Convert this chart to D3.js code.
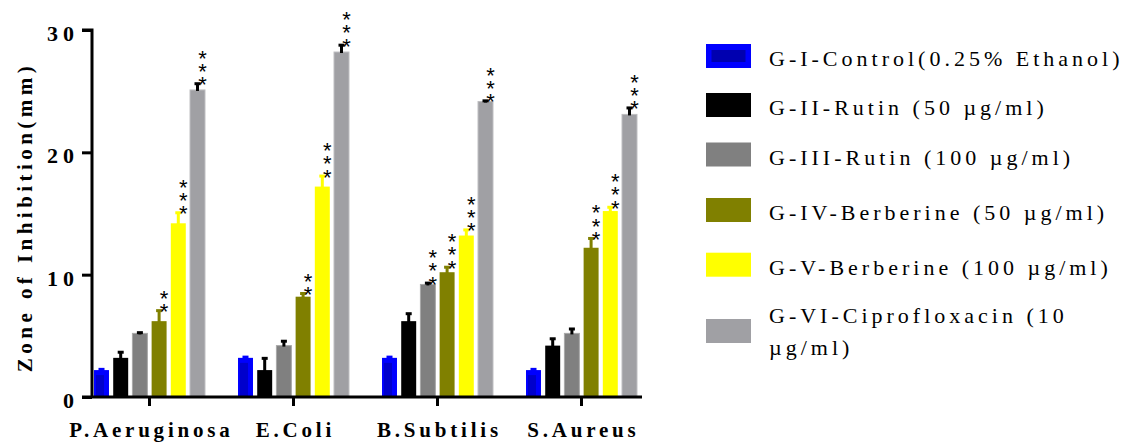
<!DOCTYPE html>
<html>
<head>
<meta charset="utf-8">
<script src="https://cdn.jsdelivr.net/npm/d3@7"></script>
<style>
  body { margin: 0; background: #fff; }
  svg { display: block; }
</style>
</head>
<body>
<div id="chart"></div>
<script>
// bacteria groups on the x axis
const categories = ['P.Aeruginosa', 'E.Coli', 'B.Subtilis', 'S.Aureus'];

// treatment groups (series)
const seriesNames = [
    'G-I-Control(0.25% Ethanol)',
    'G-II-Rutin (50 µg/ml)',
    'G-III-Rutin (100 µg/ml)',
    'G-IV-Berberine (50 µg/ml)',
    'G-V-Berberine (100 µg/ml)',
    'G-VI-Ciprofloxacin (10 µg/ml)'
];
// legend wraps the last label onto two lines
const legendLines = [
    ['G-I-Control(0.25% Ethanol)'],
    ['G-II-Rutin (50 µg/ml)'],
    ['G-III-Rutin (100 µg/ml)'],
    ['G-IV-Berberine (50 µg/ml)'],
    ['G-V-Berberine (100 µg/ml)'],
    ['G-VI-Ciprofloxacin (10', 'µg/ml)']
];
const seriesColors = ['#0000ff', '#000000', '#808080', '#808000', '#ffff00', '#a0a0a4'];
const errorColors = ['#0000ff', '#000000', '#000000', '#808000', '#ffff00', '#000000'];

// mean zone of inhibition (mm), one array per series, in category order
const gI   = [2.2, 3.2, 3.2, 2.2];
const gII  = [3.2, 2.2, 6.2, 4.2];
const gIII = [5.2, 4.2, 9.2, 5.2];
const gIV  = [6.2, 8.2, 10.2, 12.2];
const gV   = [14.2, 17.2, 13.2, 15.2];
const gVI  = [25.1, 28.2, 24.15, 23.1];
const means = [gI, gII, gIII, gIV, gV, gVI];

// upper error (SEM)
const errI   = [0.1, 0.1, 0.1, 0.1];
const errII  = [0.5, 1.0, 0.65, 0.6];
const errIII = [0.1, 0.4, 0.15, 0.4];
const errIV  = [0.9, 0.3, 0.45, 0.8];
const errV   = [0.9, 0.9, 0.5, 0.35];
const errVI  = [0.55, 0.6, 0.1, 0.57];
const errors = [errI, errII, errIII, errIV, errV, errVI];

// number of significance stars
const starsI   = [0, 0, 0, 0];
const starsII  = [0, 0, 0, 0];
const starsIII = [0, 0, 3, 0];
const starsIV  = [2, 2, 3, 3];
const starsV   = [3, 3, 3, 3];
const starsVI  = [3, 3, 3, 3];
const stars = [starsI, starsII, starsIII, starsIV, starsV, starsVI];

const yTicks = [0, 10, 20, 30];

const width = 1127, height = 442;
const serif = 'Liberation Serif';
const sans = 'Liberation Sans';

const svg = d3.select('#chart').append('svg')
    .attr('width', width)
    .attr('height', height);

const x = d3.scaleBand()
    .domain(categories)
    .range([77.5, 653.5])
    .padding(0);

const xInner = d3.scaleBand()
    .domain(d3.range(seriesNames.length))
    .range([-57.6, 57.6])
    .paddingInner(0.22)
    .paddingOuter(0.11);

const y = d3.scaleLinear().domain([0, 30]).range([397, 30]);

// flatten to bar records
const bars = [];
categories.forEach((c, ci) => {
    seriesNames.forEach((s, si) => {
        bars.push({ cat: c, si, v: means[si][ci], e: errors[si][ci], n: stars[si][ci] });
    });
});
const bw = xInner.bandwidth();
const barX = d => x(d.cat) + x.bandwidth() / 2 + xInner(d.si);
const barMid = d => barX(d) + bw / 2;

const plot = svg.append('g');

plot.selectAll('rect.bar')
    .data(bars)
    .enter()
    .append('rect')
    .attr('class', 'bar')
    .attr('x', d => barX(d))
    .attr('y', d => y(d.v))
    .attr('width', bw)
    .attr('height', d => y(0) - y(d.v))
    .attr('fill', d => seriesColors[d.si])
    .attr('stroke', d => d.si === 2 ? '#a8a8a8' : d.si === 5 ? '#bdbdc0' : 'none')
    .attr('stroke-width', 1);

// darker core on the blue bars
plot.selectAll('rect.core')
    .data(bars.filter(d => d.si === 0))
    .enter()
    .append('rect')
    .attr('x', d => barX(d) + 2)
    .attr('y', d => y(d.v) + 5)
    .attr('width', bw - 7)
    .attr('height', d => Math.max(0, y(0) - y(d.v) - 5))
    .attr('fill', '#0000cc');

// error bars (upper only)
const eb = plot.selectAll('g.err')
    .data(bars)
    .enter()
    .append('g')
    .attr('fill', d => errorColors[d.si]);

eb.append('rect')
    .attr('x', d => barMid(d) - 1.5)
    .attr('y', d => y(d.v + d.e))
    .attr('width', 3)
    .attr('height', d => y(d.v) - y(d.v + d.e) + 1);

eb.append('rect')
    .attr('x', d => barMid(d) - 3)
    .attr('y', d => y(d.v + d.e) - 1)
    .attr('width', 6)
    .attr('height', 3);

// significance stars, stacked one above the other
const starSize = 22;
const starData = [];
bars.forEach(d => {
    for (let k = 0; k < d.n; k++) starData.push({ d, k });
});
plot.selectAll('text.star')
    .data(starData)
    .enter()
    .append('text')
    .attr('class', 'star')
    .attr('x', s => barMid(s.d) + 5)
    .attr('y', s => y(s.d.v + s.d.e) - 3.8 - s.k * 13.3 + 0.58 * starSize)
    .attr('text-anchor', 'middle')
    .attr('font-family', sans)
    .attr('font-size', starSize)
    .attr('fill', '#000')
    .text('*');

// axes
const yAxis = svg.append('g')
    .attr('transform', 'translate(92,0)')
    .call(d3.axisLeft(y).tickValues(yTicks).tickSize(10).tickPadding(3).tickFormat(d3.format('d')));
yAxis.select('.domain').attr('stroke-width', 3).attr('d', 'M-10,30H0V397');
yAxis.selectAll('.tick line').attr('stroke-width', 3);
yAxis.selectAll('.tick text')
    .attr('font-family', serif)
    .attr('font-weight', 'bold')
    .attr('font-size', 22)
    .attr('letter-spacing', 5)
    .attr('dy', 10.4)
    .attr('fill', '#000');

const xAxis = svg.append('g')
    .attr('transform', 'translate(0,397)')
    .call(d3.axisBottom(x).tickSize(9).tickPadding(16));
xAxis.select('.domain').attr('stroke-width', 3).attr('d', 'M82,0H642');
xAxis.selectAll('.tick line').attr('stroke-width', 3);
xAxis.selectAll('.tick text')
    .attr('font-family', serif)
    .attr('font-weight', 'bold')
    .attr('font-size', 21)
    .attr('letter-spacing', 3.8)
    .attr('dx', 1.9)
    .attr('fill', '#000');

// y axis title
svg.append('text')
    .attr('transform', 'translate(32,217) rotate(-90)')
    .attr('text-anchor', 'middle')
    .attr('font-family', serif)
    .attr('font-weight', 'bold')
    .attr('font-size', 21)
    .attr('letter-spacing', 4.45)
    .attr('fill', '#000')
    .text('Zone of Inhibition(mm)');

// legend
const legendY = [56, 105, 154.5, 210, 264.7, 331];
const legend = svg.append('g');
legendLines.forEach((lines, i) => {
    const cy = legendY[i];
    legend.append('rect')
        .attr('x', 706)
        .attr('y', cy - 12)
        .attr('width', 45)
        .attr('height', 24)
        .attr('fill', seriesColors[i]);
    if (i === 0) {
        legend.append('rect')
            .attr('x', 711.5).attr('y', cy - 6)
            .attr('width', 34).attr('height', 12)
            .attr('fill', '#0000b0');
    }
    const base = lines.length === 1 ? cy + 10 : cy - 8;
    lines.forEach((t, j) => {
        legend.append('text')
            .attr('x', 769)
            .attr('y', base + j * 32)
            .attr('font-family', serif)
            .attr('font-size', 22)
            .attr('letter-spacing', 4.0)
            .attr('fill', '#000')
            .text(t);
    });
});
</script>
</body>
</html>
